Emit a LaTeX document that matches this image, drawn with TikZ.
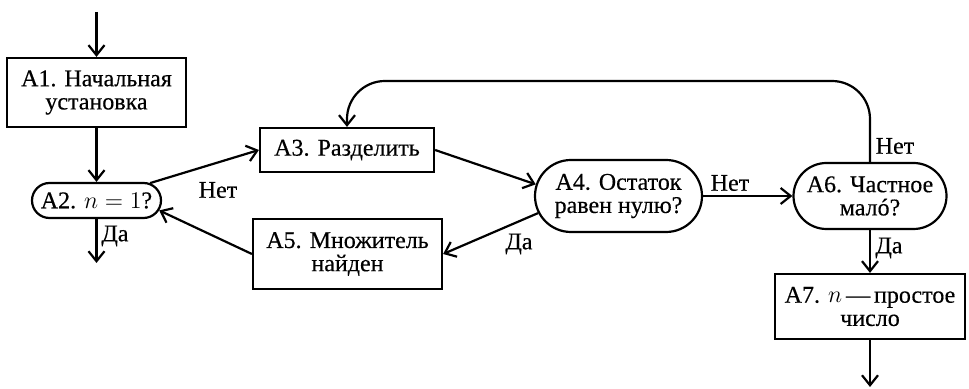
\documentclass[tikz,border=0pt]{standalone}
\usepackage{fontspec}
\setmainfont[FakeBold=0.4]{Liberation Serif}
\usetikzlibrary{shapes.misc,arrows.meta}
\tikzset{
  base/.style={draw, line width=1.1pt, align=center, inner sep=0pt,
    font=\fontsize{12}{11.6}\selectfont},
  box/.style={base, rectangle},
  term/.style={base, rounded rectangle, rounded rectangle arc length=180},
  lbl/.style={inner sep=0pt, font=\fontsize{12}{11.6}\selectfont},
  arr/.style={line width=1.1pt, -{Straight Barb[length=5pt,width=8pt,line width=1.1pt]}}
}
\begin{document}
\begin{tikzpicture}[x=0.5pt,y=-0.5pt]
\path[use as bounding box] (0,0) rectangle (969,389);
\node[box, minimum width=89.5pt, minimum height=34.5pt] (A1) at (96.5,92.5) {А1. Начальная\\установка};
\node[term, minimum width=64.5pt, minimum height=17.5pt] (A2) at (96.5,200.5) {А2. $n=1$?};
\node[box, minimum width=87pt, minimum height=22pt] (A3) at (347,150) {А3. Разделить};
\node[term, minimum width=83.5pt, minimum height=36pt] (A4) at (618.5,196) {А4. Остаток\\равен нулю?};
\node[box, minimum width=94.5pt, minimum height=35pt] (A5) at (347.5,254) {А5. Множитель\\найден};
\node[term, minimum width=76.5pt, minimum height=33pt] (A6) at (870,196) {А6. Частное\\малó?};
\node[box, minimum width=95pt, minimum height=32.5pt] (A7) at (870,306.5) {А7. $n$\,—\,простое\\число};

\coordinate (in) at (96.5,12);
\coordinate (out2) at (96.5,263);
\coordinate (out7) at (870,387);
\coordinate (top) at (0,81);

\draw[arr] (in) -- (A1.north);
\draw[arr] (A1.south) -- (A2.north);
\draw[arr] (A2.south) -- (out2);
\draw[arr] (A2.18) -- (A3.west);
\draw[arr] (A3.east) -- (A4.172);
\draw[arr] (A4.192) -- (A5.east);
\draw[arr] (A5.west) -- (A2.-9);
\draw[arr] (A4.east) -- (A6.west);
\draw[arr] (A6.south) -- (A7.north);
\draw[arr] (A7.south) -- (out7);
\draw[arr, rounded corners=19pt] (A6.north) -- (A6.north |- top) -- (A3.north |- top) -- (A3.north);

\node[lbl] (l1) at (218,190) {Нет};
\node[lbl] (l2) at (115,236) {Да};
\node[lbl] (l3) at (519,244) {Да};
\node[lbl] (l4) at (730,183) {Нет};
\node[lbl] (l5) at (895,146) {Нет};
\node[lbl] (l6) at (889,248) {Да};
\end{tikzpicture}
\end{document}
